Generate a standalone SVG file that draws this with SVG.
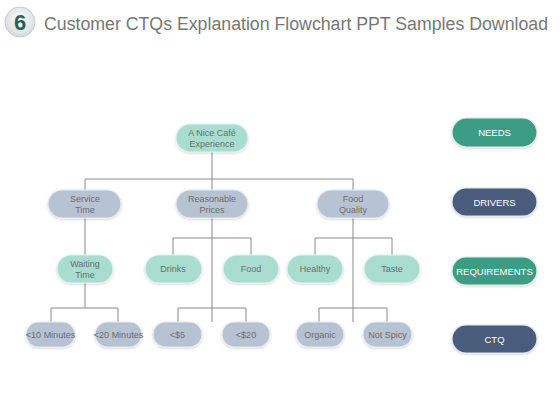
<svg xmlns="http://www.w3.org/2000/svg" width="560" height="420" viewBox="0 0 560 420">
<defs>
<radialGradient id="g6" cx="50%" cy="40%" r="60%">
<stop offset="0" stop-color="#ffffff"/>
<stop offset="1" stop-color="#d6d9da"/>
</radialGradient>
<filter id="sh" x="-20%" y="-30%" width="140%" height="160%">
<feDropShadow dx="0" dy="1" stdDeviation="1" flood-color="#000" flood-opacity="0.18"/>
</filter>
</defs>
<style>
.t{font-family:"Liberation Sans",Arial,sans-serif;fill:#6d6d6d;font-size:9px;text-anchor:middle}
.w{font-family:"Liberation Sans",Arial,sans-serif;fill:#ffffff;font-size:9.5px;text-anchor:middle}
.g{fill:#a9ddd0;stroke:#e6f3ef;stroke-width:1.2;filter:url(#sh)}
.b{fill:#b7c3d3;stroke:#e8ecf1;stroke-width:1.2;filter:url(#sh)}
.ng{fill:#3d9c84;stroke:#dfeeea;stroke-width:1.2;filter:url(#sh)}
.nb{fill:#4a5c7b;stroke:#e2e6ec;stroke-width:1.2;filter:url(#sh)}
.c{fill:none;stroke:#8a8a8a;stroke-width:1}
</style>
<rect width="560" height="420" fill="#ffffff"/>
<g id="title">
<circle cx="20" cy="22" r="15" fill="url(#g6)" stroke="#c9cccd" stroke-width="1"/>
<circle cx="20" cy="22" r="11" fill="none" stroke="#e9ebec" stroke-width="1"/>
<text x="20" y="30" font-family="Liberation Sans,Arial,sans-serif" font-size="22" font-weight="bold" fill="#2e5f55" text-anchor="middle">6</text>
<text x="44" y="30" font-family="Liberation Sans,Arial,sans-serif" font-size="18" fill="#777777" textLength="504" lengthAdjust="spacingAndGlyphs">Customer CTQs Explanation Flowchart PPT Samples Download</text>
</g>
<g id="connectors">
<path class="c" d="M212 152V179M85 179H353M85 179V190M212 179V190M353 179V190"/>
<path class="c" d="M212 218V322M173 238H251M173 238V255M251 238V255"/>
<path class="c" d="M353 218V322M315 238H392M315 238V255M392 238V255"/>
<path class="c" d="M85 218V255M85 283V308M51 308H118M51 308V322M118 308V322"/>
<path class="c" d="M178 308H246M178 308V322M246 308V322"/>
<path class="c" d="M319 308H387M319 308V322M387 308V322"/>
</g>
<g id="n-cafe"><rect class="g" x="176" y="124" width="72" height="28" rx="14"/><text class="t" x="212" y="136">A Nice Café</text><text class="t" x="212" y="147">Experience</text></g>
<g id="n-service"><rect class="b" x="48" y="190" width="73" height="28" rx="14"/><text class="t" x="85" y="202">Service</text><text class="t" x="85" y="213">Time</text></g>
<g id="n-prices"><rect class="b" x="176" y="190" width="72" height="28" rx="14"/><text class="t" x="212" y="202">Reasonable</text><text class="t" x="212" y="213">Prices</text></g>
<g id="n-quality"><rect class="b" x="317" y="190" width="72" height="28" rx="14"/><text class="t" x="353" y="202">Food</text><text class="t" x="353" y="213">Quality</text></g>
<g id="n-waiting"><rect class="g" x="57" y="255" width="56" height="28" rx="14"/><text class="t" x="85" y="267">Waiting</text><text class="t" x="85" y="278">Time</text></g>
<g id="n-drinks"><rect class="g" x="145" y="255" width="57" height="28" rx="14"/><text class="t" x="173" y="272">Drinks</text></g>
<g id="n-food"><rect class="g" x="223" y="255" width="56" height="28" rx="14"/><text class="t" x="251" y="272">Food</text></g>
<g id="n-healthy"><rect class="g" x="287" y="255" width="56" height="28" rx="14"/><text class="t" x="315" y="272">Healthy</text></g>
<g id="n-taste"><rect class="g" x="364" y="255" width="56" height="28" rx="14"/><text class="t" x="392" y="272">Taste</text></g>
<g id="n-10min"><rect class="b" x="26" y="322" width="49" height="25" rx="12.5"/><text class="t" x="50.5" y="338" font-size="8.5">&lt;10 Minutes</text></g>
<g id="n-20min"><rect class="b" x="95" y="322" width="47" height="25" rx="12.5"/><text class="t" x="118.5" y="338" font-size="8.5">&lt;20 Minutes</text></g>
<g id="n-5"><rect class="b" x="153" y="322" width="49" height="25" rx="12.5"/><text class="t" x="177.5" y="338" font-size="8.5">&lt;$5</text></g>
<g id="n-20"><rect class="b" x="222" y="322" width="48" height="25" rx="12.5"/><text class="t" x="246" y="338" font-size="8.5">&lt;$20</text></g>
<g id="n-organic"><rect class="b" x="296" y="322" width="48" height="25" rx="12.5"/><text class="t" x="320" y="338" font-size="8.5">Organic</text></g>
<g id="n-notspicy"><rect class="b" x="363" y="322" width="49" height="25" rx="12.5"/><text class="t" x="387.5" y="338" font-size="8.5">Not Spicy</text></g>
<g id="l-needs"><rect class="ng" x="452" y="118" width="85" height="29" rx="14.5"/><text class="w" x="494.5" y="136">NEEDS</text></g>
<g id="l-drivers"><rect class="nb" x="452" y="188" width="85" height="28" rx="14"/><text class="w" x="494.5" y="205.5">DRIVERS</text></g>
<g id="l-requirements"><rect class="ng" x="452" y="257" width="85" height="28" rx="14"/><text class="w" x="494.5" y="274.5" font-size="9">REQUIREMENTS</text></g>
<g id="l-ctq"><rect class="nb" x="452" y="325" width="85" height="28" rx="14"/><text class="w" x="494.5" y="342.5">CTQ</text></g>
</svg>
